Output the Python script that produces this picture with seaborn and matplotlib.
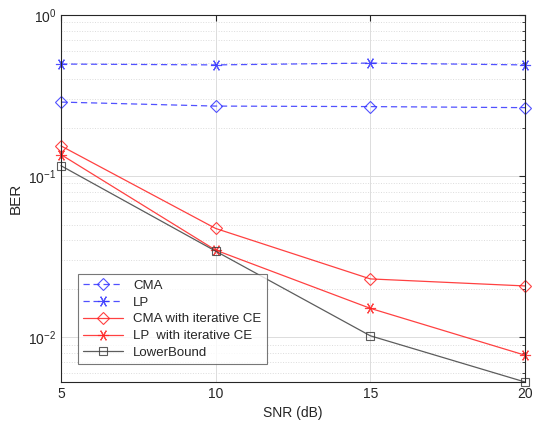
import pandas as pd
import matplotlib
matplotlib.use("Agg")
import matplotlib.pyplot as plt
import seaborn as sns

snr = [5, 10, 15, 20]
ber_cma = [0.288, 0.272, 0.270, 0.266]
ber_lp = [0.496, 0.490, 0.503, 0.490]
ber_cma_ce = [0.154, 0.0473, 0.0230, 0.0208]
ber_lp_ce = [0.136, 0.0347, 0.0151, 0.00773]
ber_lower = [0.116, 0.0342, 0.0102, 0.00527]

asterisk = (6, 2, 90)
series = [
    ("CMA", ber_cma, "#3333ff", (5, 3), "D"),
    ("LP", ber_lp, "#3333ff", (5, 3), asterisk),
    ("CMA with iterative CE", ber_cma_ce, "#ff2020", None, "D"),
    ("LP  with iterative CE", ber_lp_ce, "#ff2020", None, asterisk),
    ("LowerBound", ber_lower, "#404040", None, "s"),
]

sns.set_style("white")
plt.rcParams['font.family'] = ['Arial', 'Liberation Sans', 'DejaVu Sans']
plt.rcParams['axes.unicode_minus'] = False

fig = plt.figure(figsize=(5.33, 4.26), dpi=100)
ax = fig.add_axes([0.1144, 0.1033, 0.8706, 0.8615])

for name, vals, color, dash, marker in series:
    df = pd.DataFrame({"SNR": snr, "BER": vals})
    sns.lineplot(data=df, x="SNR", y="BER", ax=ax, color=color,
                 linestyle="--" if dash else "-", linewidth=0.9, marker=marker,
                 markersize=8 if marker == asterisk else 6,
                 markerfacecolor="none", markeredgecolor=color,
                 markeredgewidth=0.8, label=name, alpha=0.85, clip_on=False)
    if dash:
        ax.lines[-1].set_dashes(dash)

ax.set_yscale("log")
ax.set_xlim(5, 20)
ax.set_ylim(0.00527, 1)
ax.set_xticks([5, 10, 15, 20])
ax.set_xlabel("SNR (dB)", fontsize=10)
ax.set_ylabel("BER", fontsize=11)
ax.tick_params(axis="both", which="both", direction="in", labelsize=10,
               top=True, right=True, length=4, colors="#262626")
ax.tick_params(axis="y", which="minor", length=2)
ax.grid(True, which="major", color="#dcdcdc", linewidth=0.7)
ax.grid(True, which="minor", axis="y", color="#dcdcdc", linestyle=":", linewidth=0.7)
for s in ax.spines.values():
    s.set_color("#262626")
    s.set_linewidth(0.8)

leg = ax.legend(loc="lower left", bbox_to_anchor=(0.022, 0.03), fontsize=9.5,
                frameon=True, fancybox=False, edgecolor="#555555",
                handlelength=3.0, labelspacing=0.35, borderpad=0.4)
leg.get_frame().set_linewidth(0.8)

fig.savefig("out.png", dpi=100)
